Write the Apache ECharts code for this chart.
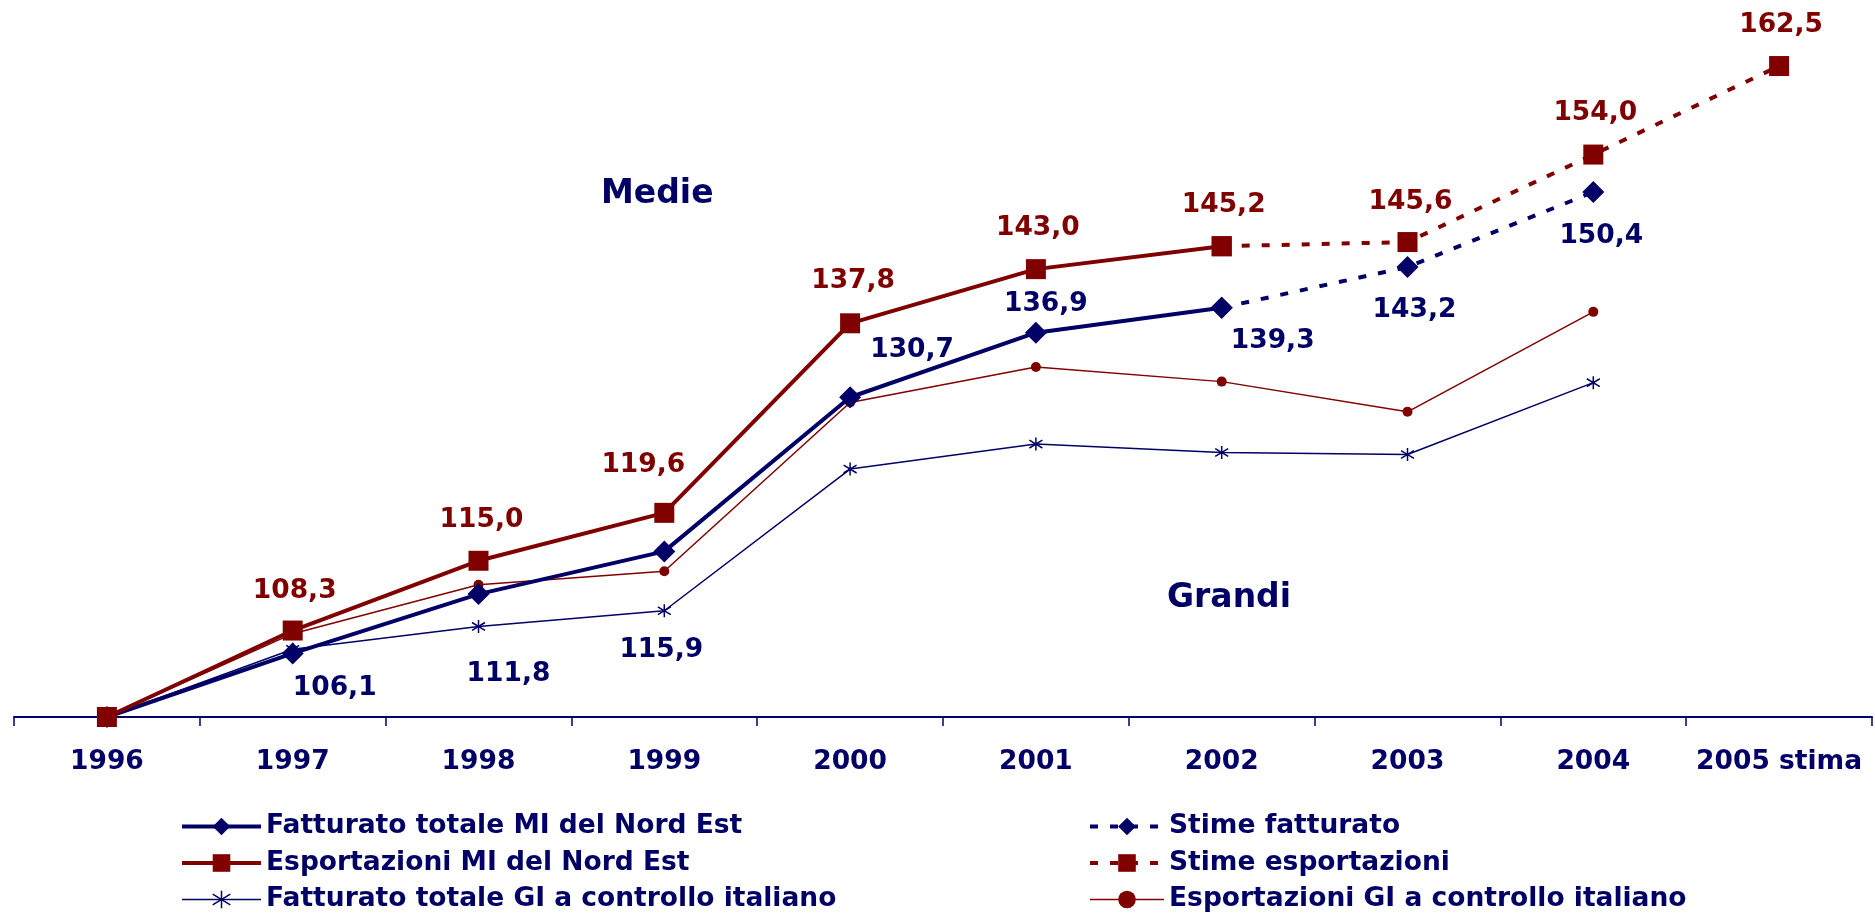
<!DOCTYPE html>
<html>
<head>
<meta charset="utf-8">
<script src="https://cdn.jsdelivr.net/npm/echarts@6/dist/echarts.min.js"></script>
<style>
  html, body { margin: 0; padding: 0; background: #ffffff; }
  #chart { width: 1875px; height: 917px; }
</style>
</head>
<body>
<div id="chart"></div>
<script>
// ---------------- DATA ----------------
const years = ['1996', '1997', '1998', '1999', '2000', '2001', '2002', '2003', '2004', '2005 stima'];

const fatturatoMI     = [100, 106.1, 111.8, 115.9, 130.7, 136.9, 139.3, null, null, null];
const stimeFatturato  = [null, null, null, null, null, null, 139.3, 143.2, 150.4, null];
const esportazioniMI  = [100, 108.3, 115.0, 119.6, 137.8, 143.0, 145.2, null, null, null];
const stimeEsport     = [null, null, null, null, null, null, 145.2, 145.6, 154.0, 162.5];
const fatturatoGI     = [100, 106.5, 108.7, 110.2, 123.8, 126.2, 125.4, 125.2, 132.1, null];
const esportazioniGI  = [100, 108.0, 112.7, 114.0, 130.2, 133.6, 132.2, 129.3, 138.9, null];

const seriesNames = {
  fatMI: 'Fatturato totale MI del Nord Est',
  espMI: 'Esportazioni MI del Nord Est',
  fatGI: 'Fatturato totale GI a controllo italiano',
  stFat: 'Stime fatturato',
  stEsp: 'Stime esportazioni',
  espGI: 'Esportazioni GI a controllo italiano'
};

// ---------------- STYLE ----------------
const NAVY = '#000066';
const RED = '#800000';
const FONT = '"DejaVu Sans", Verdana, sans-serif';

// label offsets (pixels, relative to the point) – null = no label
const offFatMI = [null, [42, 35], [30, 80], [-3, 99], [62, -47], [10, -29], [51, 33], null, null, null];
const offStFat = [null, null, null, null, null, null, null, [7, 43], [8, 44], null];
const offEspMI = [null, [2, -39], [3, -41], [-21, -48], [3, -42], [2, -41], [2, -41], null, null, null];
const offStEsp = [null, null, null, null, null, null, null, [3, -40], [2, -41], [2, -41]];

function fmt(v) { return v.toFixed(1).replace('.', ','); }

function withLabels(values, offsets, color) {
  return values.map(function (v, i) {
    if (v === null) return null;
    const o = offsets[i];
    if (!o) return { value: v, label: { show: false } };
    return {
      value: v,
      label: {
        show: true,
        position: 'inside',
        offset: o,
        color: color,
        fontFamily: FONT,
        fontWeight: 'bold',
        fontSize: 26.5,
        formatter: function (p) { return fmt(p.value); }
      }
    };
  });
}

const asterisk = 'path://M0,-10L0,10M-8.66,-6L8.66,6M-8.66,6L8.66,-6';

const chart = echarts.init(document.getElementById('chart'), null, { renderer: 'canvas' });

const legendText = { color: NAVY, fontFamily: FONT, fontWeight: 'bold', fontSize: 26.5, lineHeight: 22 };

function legendCfg(left, width, names) {
  return {
    orient: 'vertical', left: left, top: 813, padding: 0,
    width: 700, height: 110,
    itemWidth: width, itemHeight: 22, itemGap: 9.5,
    textStyle: legendText,
    lineStyle: { width: 'inherit', type: 'inherit' },
    itemStyle: { borderWidth: 'inherit' },
    data: names
  };
}

const option = {
  animation: false,
  backgroundColor: '#ffffff',
  grid: { left: 14, right: 3, top: 40, bottom: 200, containLabel: false },
  xAxis: {
    type: 'category',
    data: years,
    boundaryGap: true,
    axisLine: { show: true, lineStyle: { color: NAVY, width: 2 } },
    axisTick: { show: true, length: 9, lineStyle: { color: NAVY, width: 1.5 } },
    axisLabel: {
      interval: 0, margin: 32, color: NAVY,
      fontFamily: FONT, fontWeight: 'bold', fontSize: 26.5
    },
    splitLine: { show: false }
  },
  yAxis: {
    type: 'value', min: 100, max: 165, show: false,
    splitLine: { show: false }
  },
  legend: [
    legendCfg(180, 79, [seriesNames.fatMI, seriesNames.espMI, seriesNames.fatGI]),
    legendCfg(1088, 74, [seriesNames.stFat, seriesNames.stEsp, seriesNames.espGI])
  ],
  graphic: [
    { type: 'text', left: 656 - 55, top: 198 - 20,
      style: { text: 'Medie', fill: NAVY, font: 'bold 33px ' + FONT } },
    { type: 'text', left: 1227 - 60, top: 602 - 20,
      style: { text: 'Grandi', fill: NAVY, font: 'bold 33px ' + FONT } }
  ],
  series: [
    {
      name: seriesNames.fatGI, type: 'line', data: fatturatoGI,
      symbol: asterisk, symbolSize: 13,
      lineStyle: { color: NAVY, width: 1.5 },
      itemStyle: { color: NAVY, borderColor: NAVY, borderWidth: 1.5 },
      z: 2
    },
    {
      name: seriesNames.espGI, type: 'line', data: esportazioniGI,
      symbol: 'circle', symbolSize: 10,
      lineStyle: { color: RED, width: 1.5 },
      itemStyle: { color: RED },
      z: 2
    },
    {
      name: seriesNames.stFat, type: 'line', data: withLabels(stimeFatturato, offStFat, NAVY),
      symbol: 'diamond', symbolSize: 22,
      lineStyle: { color: NAVY, width: 4, type: [8, 12] },
      itemStyle: { color: NAVY },
      z: 3
    },
    {
      name: seriesNames.stEsp, type: 'line', data: withLabels(stimeEsport, offStEsp, RED),
      symbol: 'rect', symbolSize: 20,
      lineStyle: { color: RED, width: 4, type: [8, 12] },
      itemStyle: { color: RED },
      z: 3
    },
    {
      name: seriesNames.fatMI, type: 'line', data: withLabels(fatturatoMI, offFatMI, NAVY),
      symbol: 'diamond', symbolSize: 22,
      lineStyle: { color: NAVY, width: 4 },
      itemStyle: { color: NAVY },
      z: 4
    },
    {
      name: seriesNames.espMI, type: 'line', data: withLabels(esportazioniMI, offEspMI, RED),
      symbol: 'rect', symbolSize: 20,
      lineStyle: { color: RED, width: 4 },
      itemStyle: { color: RED },
      z: 5
    }
  ]
};

chart.setOption(option);
</script>
</body>
</html>
